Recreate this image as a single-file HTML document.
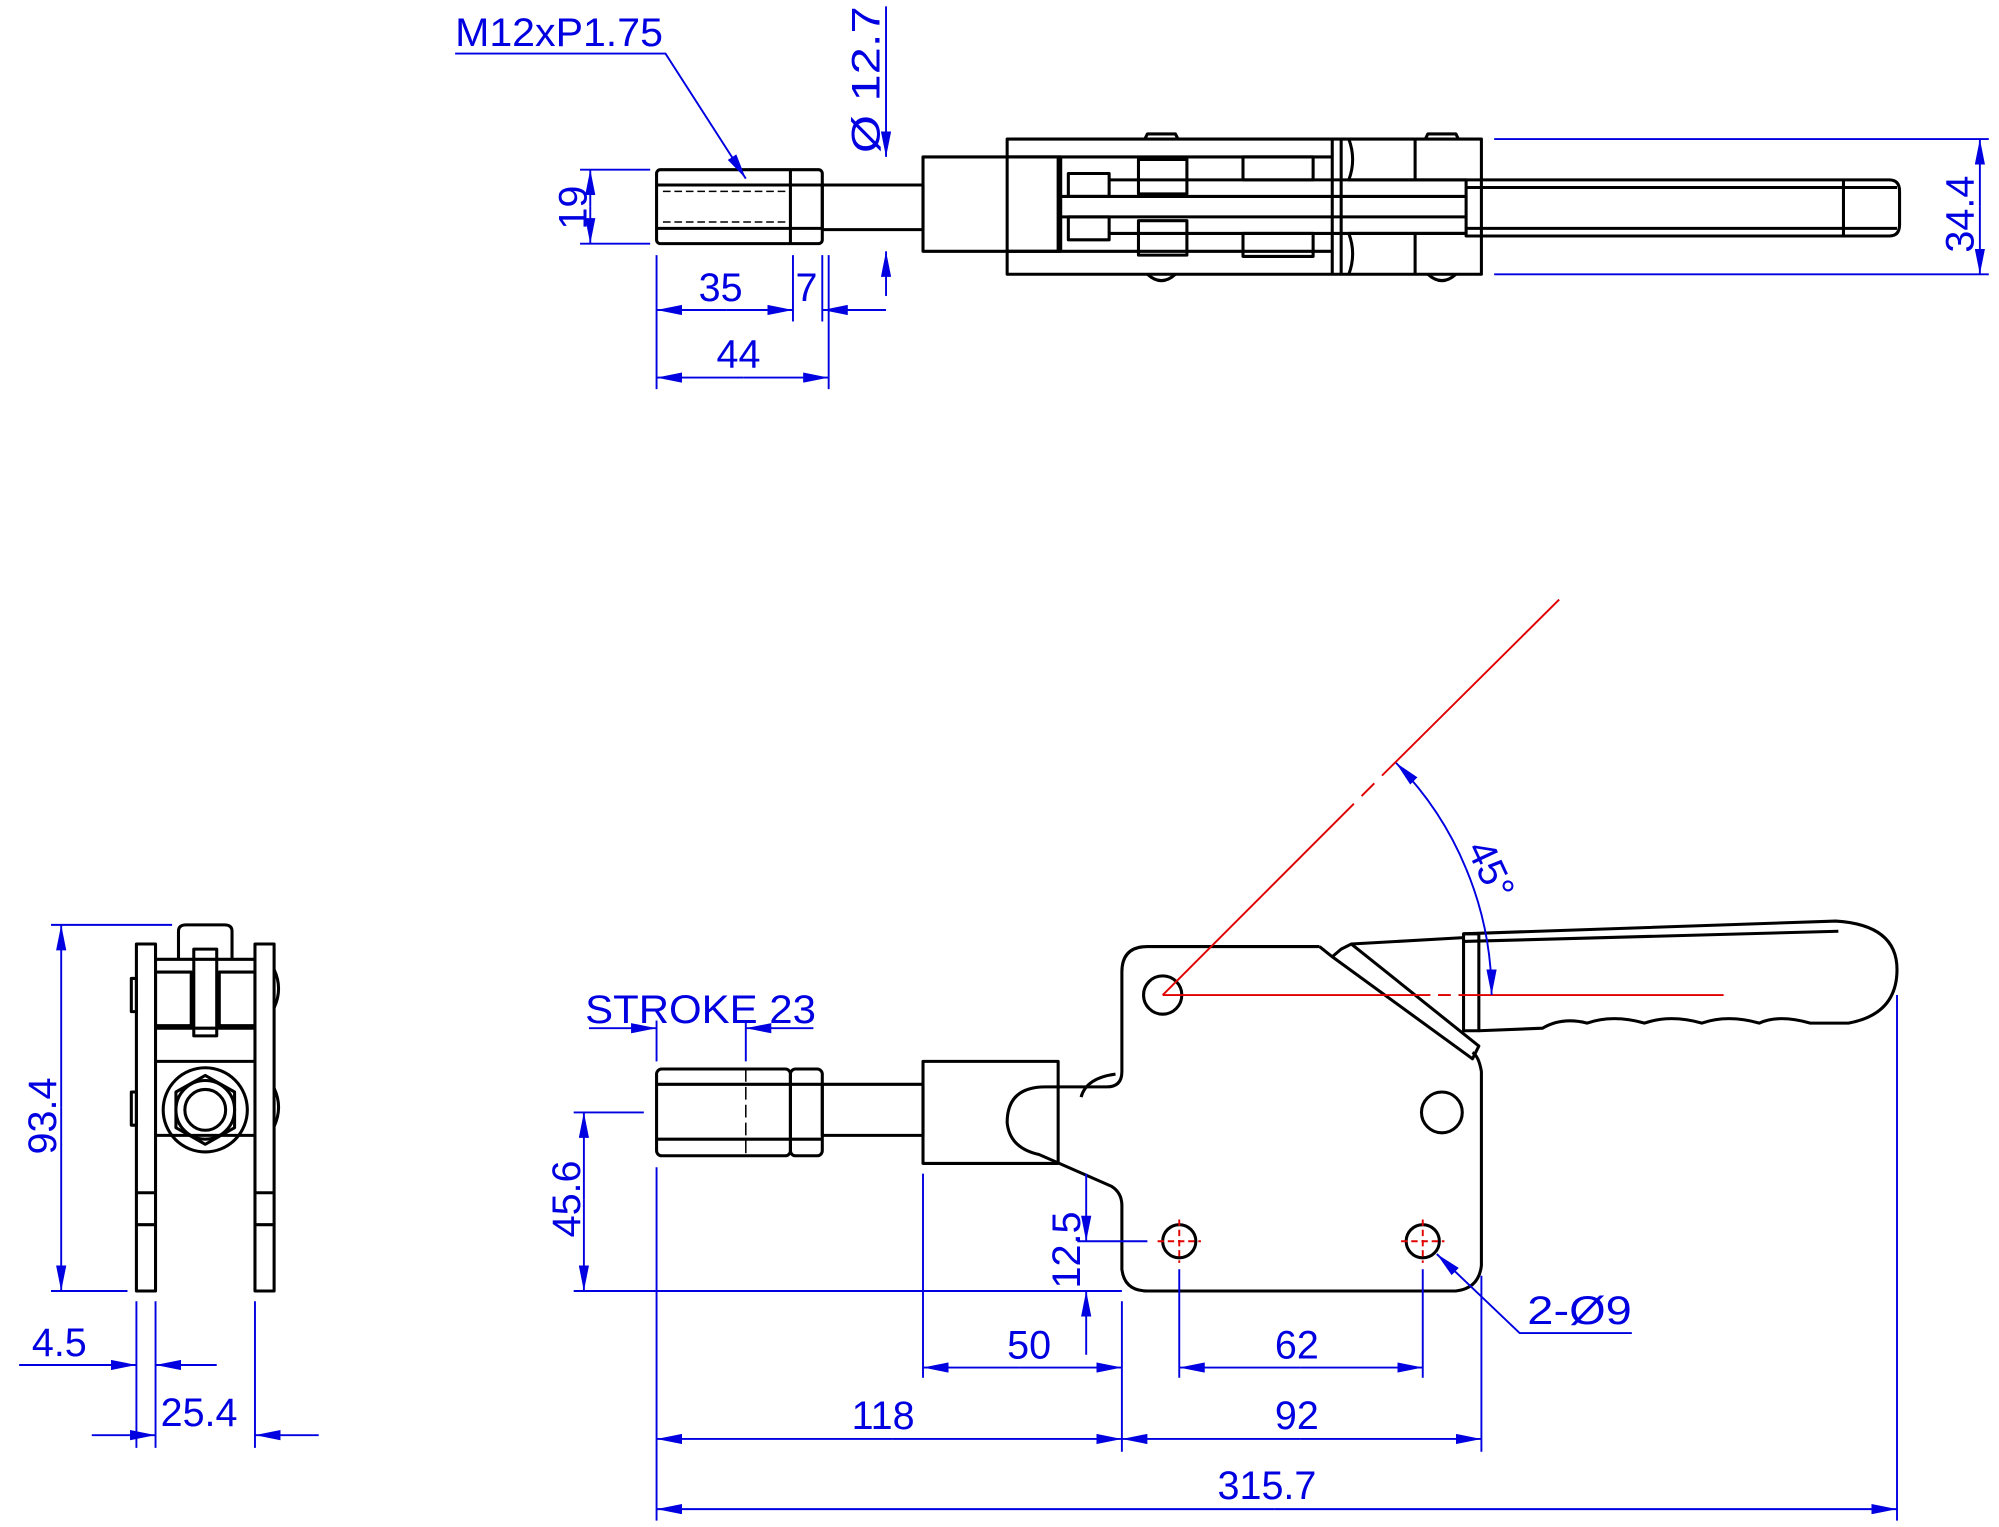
<!DOCTYPE html>
<html><head><meta charset="utf-8"><style>
html,body{margin:0;padding:0;background:#fff;}
svg{display:block;}
text{font-family:"Liberation Sans",sans-serif;fill:#0000e0;font-size:31px;}
</style></head><body>
<svg width="1999" height="1527" viewBox="0 0 1568 1197" preserveAspectRatio="none" xmlns="http://www.w3.org/2000/svg">
<defs>
<marker id="a" viewBox="0 0 20 8" refX="20" refY="4" markerWidth="20" markerHeight="8" markerUnits="userSpaceOnUse" orient="auto-start-reverse"><path d="M0,0L20,4L0,8z" fill="#0000e0"/></marker>
</defs>
<g fill="none" stroke="#000" stroke-width="2.4" stroke-linejoin="round">
<!-- TOP VIEW -->
<rect x="515" y="133" width="130" height="58" rx="3"/>
<line x1="620" y1="133" x2="620" y2="191"/>
<line x1="515" y1="145" x2="645" y2="145"/><line x1="515" y1="179" x2="645" y2="179"/>
<line x1="520" y1="150" x2="618" y2="150" stroke-dasharray="6,3" stroke-width="1.2"/>
<line x1="520" y1="174" x2="618" y2="174" stroke-dasharray="6,3" stroke-width="1.2"/>
<rect x="645" y="145" width="79" height="35"/>
<rect x="724" y="123" width="108" height="74"/>
<rect x="790" y="109" width="372" height="106"/>
<line x1="790" y1="123" x2="1045" y2="123"/><line x1="790" y1="197" x2="1045" y2="197"/>
<line x1="830" y1="123" x2="830" y2="197"/>
<rect x="893" y="125" width="38" height="27"/><rect x="893" y="173" width="38" height="27"/>
<rect x="838" y="136" width="32" height="18"/><rect x="838" y="170" width="32" height="18"/>
<line x1="832" y1="154" x2="1150" y2="154"/><line x1="832" y1="170" x2="1150" y2="170"/>
<line x1="870" y1="141" x2="1150" y2="141"/><line x1="870" y1="183" x2="1150" y2="183"/>
<rect x="975" y="123" width="55" height="18"/><rect x="975" y="183" width="55" height="18"/>
<line x1="1045" y1="109" x2="1045" y2="215"/><line x1="1052" y1="109" x2="1052" y2="215"/>
<path d="M1058,109 Q1064,125 1058,141 L1150,141"/><path d="M1058,215 Q1064,199 1058,183 L1150,183"/>
<line x1="1110" y1="109" x2="1110" y2="141"/><line x1="1110" y1="183" x2="1110" y2="215"/>
<path d="M1150,141 L1482,141 Q1490,141 1490,150 L1490,176 Q1490,185 1482,185 L1150,185 Z"/>
<line x1="1150" y1="147" x2="1488" y2="147"/><line x1="1150" y1="179" x2="1488" y2="179"/>
<line x1="1446" y1="141" x2="1446" y2="185"/>
<path d="M898,109 L900,105 L922,105 L924,109"/><path d="M1118,109 L1120,105 L1142,105 L1144,109"/>
<path d="M900,215 Q911,225 922,215"/><path d="M1120,215 Q1131,225 1142,215"/>
<!-- FRONT VIEW -->
<rect x="107" y="740" width="15" height="272"/><rect x="200" y="740" width="15" height="272"/>
<line x1="122" y1="752" x2="200" y2="752"/><line x1="122" y1="806" x2="200" y2="806"/><line x1="122" y1="832" x2="200" y2="832"/><line x1="122" y1="890" x2="200" y2="890"/>
<rect x="122" y="762" width="28" height="42"/><rect x="172" y="762" width="28" height="42"/>
<rect x="152" y="744" width="18" height="68"/>
<path d="M140,752 L140,730 Q140,725 146,725 L176,725 Q182,725 182,730 L182,752"/>
<line x1="107" y1="960" x2="122" y2="960"/><line x1="200" y1="960" x2="215" y2="960"/>
<line x1="107" y1="935" x2="122" y2="935"/><line x1="200" y1="935" x2="215" y2="935"/>
<circle cx="161" cy="870" r="33"/>
<path d="M161,843 L184,856 L184,884 L161,897 L138,884 L138,856 Z"/>
<circle cx="161" cy="870" r="23"/><circle cx="161" cy="870" r="16"/>
<path d="M215,760 Q222,775 215,790"/><path d="M215,853 Q222,868 215,883"/>
<rect x="103" y="767" width="4" height="26"/><rect x="103" y="856" width="4" height="26"/>
<!-- SIDE VIEW -->
<rect x="515" y="838" width="105" height="68" rx="4"/>
<rect x="620" y="838" width="25" height="68" rx="4"/>
<line x1="515" y1="850" x2="645" y2="850"/><line x1="515" y1="893" x2="645" y2="893"/>
<line x1="585" y1="838" x2="585" y2="906" stroke-dasharray="10,4" stroke-width="1.2"/>
<rect x="645" y="850" width="79" height="40"/>
<rect x="724" y="832" width="106" height="80"/>
<path d="M1035,742 L900,742 Q880,742 880,762 L880,840 Q880,852 868,852 L820,852 Q790,852 790,880 Q792,900 815,905 L872,930 Q880,935 880,945 L880,995 Q882,1012 900,1012 L1142,1012 Q1160,1010 1162,992 L1162,840 Q1160,828 1155,825"/>
<path d="M848,860 Q852,845 875,842"/>
<circle cx="912" cy="780" r="15"/>
<circle cx="1131" cy="872" r="16"/>
<circle cx="925" cy="973" r="13"/>
<circle cx="1116" cy="973" r="13"/>
<path d="M1035,742 L1045,750 L1052,744 L1060,740 L1160,820 L1155,830 L1045,750"/>
<line x1="1060" y1="740" x2="1148" y2="735"/>
<path d="M1148,732 L1148,808 L1160,808 L1160,732 Z"/>
<path d="M1148,732 L1440,722 Q1488,725 1488,760 Q1488,795 1450,802 L1420,802 Q1395,795 1380,802 Q1355,795 1335,802 Q1310,795 1290,802 Q1265,795 1245,802 Q1225,797 1210,806 L1160,808"/>
<line x1="1148" y1="738" x2="1442" y2="730"/>
</g>
<!-- red center lines -->
<g stroke="#e00000" stroke-width="1.5" fill="none">
<line x1="912" y1="780" x2="1062" y2="630"/><line x1="1068" y1="624" x2="1078" y2="614"/><line x1="1084" y1="608" x2="1223" y2="470"/>
<line x1="912" y1="780" x2="1122" y2="780"/><line x1="1128" y1="780" x2="1138" y2="780"/><line x1="1144" y1="780" x2="1352" y2="780"/>
<g stroke-dasharray="5,3"><line x1="908" y1="973" x2="942" y2="973"/><line x1="925" y1="956" x2="925" y2="990"/>
<line x1="1099" y1="973" x2="1133" y2="973"/><line x1="1116" y1="956" x2="1116" y2="990"/></g>
</g>
<!-- blue dims -->
<g stroke="#0000e0" stroke-width="1.5" fill="none">
<path d="M357,42 L522,42 L585,140" marker-end="url(#a)"/>
<line x1="695" y1="5" x2="695" y2="123" marker-end="url(#a)"/><line x1="695" y1="232" x2="695" y2="197" marker-end="url(#a)"/>
<line x1="455" y1="133" x2="510" y2="133"/><line x1="455" y1="191" x2="510" y2="191"/>
<line x1="463" y1="162" x2="463" y2="133" marker-end="url(#a)"/><line x1="463" y1="162" x2="463" y2="191" marker-end="url(#a)"/>
<line x1="515" y1="200" x2="515" y2="305"/><line x1="622" y1="200" x2="622" y2="252"/><line x1="645" y1="200" x2="645" y2="252"/><line x1="650" y1="200" x2="650" y2="305"/>
<line x1="570" y1="243" x2="515" y2="243" marker-end="url(#a)"/><line x1="570" y1="243" x2="622" y2="243" marker-end="url(#a)"/>
<line x1="695" y1="243" x2="645" y2="243" marker-end="url(#a)"/>
<line x1="583" y1="296" x2="515" y2="296" marker-end="url(#a)"/><line x1="583" y1="296" x2="650" y2="296" marker-end="url(#a)"/>
<line x1="1172" y1="109" x2="1560" y2="109"/><line x1="1172" y1="215" x2="1560" y2="215"/>
<line x1="1553" y1="162" x2="1553" y2="109" marker-end="url(#a)"/><line x1="1553" y1="162" x2="1553" y2="215" marker-end="url(#a)"/>
<!-- front -->
<line x1="40" y1="725" x2="135" y2="725"/><line x1="40" y1="1012" x2="100" y2="1012"/>
<line x1="48" y1="868" x2="48" y2="725" marker-end="url(#a)"/><line x1="48" y1="868" x2="48" y2="1012" marker-end="url(#a)"/>
<line x1="107" y1="1020" x2="107" y2="1135"/><line x1="122" y1="1020" x2="122" y2="1135"/><line x1="200" y1="1020" x2="200" y2="1135"/>
<line x1="15" y1="1070" x2="107" y2="1070" marker-end="url(#a)"/><line x1="170" y1="1070" x2="122" y2="1070" marker-end="url(#a)"/>
<line x1="72" y1="1125" x2="122" y2="1125" marker-end="url(#a)"/><line x1="250" y1="1125" x2="200" y2="1125" marker-end="url(#a)"/>
<!-- side -->
<line x1="515" y1="800" x2="515" y2="832"/><line x1="585" y1="800" x2="585" y2="832"/>
<line x1="462" y1="806" x2="515" y2="806" marker-end="url(#a)"/><line x1="638" y1="806" x2="585" y2="806" marker-end="url(#a)"/>
<line x1="450" y1="872" x2="505" y2="872"/><line x1="450" y1="1012" x2="880" y2="1012"/>
<line x1="458" y1="940" x2="458" y2="872" marker-end="url(#a)"/><line x1="458" y1="940" x2="458" y2="1012" marker-end="url(#a)"/>
<line x1="845" y1="973" x2="900" y2="973"/>
<line x1="852" y1="920" x2="852" y2="973" marker-end="url(#a)"/><line x1="852" y1="1062" x2="852" y2="1012" marker-end="url(#a)"/>
<line x1="515" y1="915" x2="515" y2="1192"/><line x1="724" y1="920" x2="724" y2="1080"/><line x1="880" y1="1020" x2="880" y2="1138"/>
<line x1="925" y1="995" x2="925" y2="1080"/><line x1="1116" y1="995" x2="1116" y2="1080"/><line x1="1162" y1="1000" x2="1162" y2="1138"/>
<line x1="1488" y1="780" x2="1488" y2="1192"/>
<line x1="800" y1="1072" x2="724" y2="1072" marker-end="url(#a)"/><line x1="800" y1="1072" x2="880" y2="1072" marker-end="url(#a)"/>
<line x1="1020" y1="1072" x2="925" y2="1072" marker-end="url(#a)"/><line x1="1020" y1="1072" x2="1116" y2="1072" marker-end="url(#a)"/>
<line x1="700" y1="1128" x2="515" y2="1128" marker-end="url(#a)"/><line x1="700" y1="1128" x2="880" y2="1128" marker-end="url(#a)"/>
<line x1="1020" y1="1128" x2="880" y2="1128" marker-end="url(#a)"/><line x1="1020" y1="1128" x2="1162" y2="1128" marker-end="url(#a)"/>
<line x1="1000" y1="1183" x2="515" y2="1183" marker-end="url(#a)"/><line x1="1000" y1="1183" x2="1488" y2="1183" marker-end="url(#a)"/>
<path d="M1280,1045 L1192,1045 L1127,983" marker-end="url(#a)"/>
<path d="M1150,681 A258,258 0 0 0 1095,598" marker-end="url(#a)"/>
<path d="M1150,681 A258,258 0 0 1 1170,780" marker-end="url(#a)"/>
</g>
<text x="357" y="36" font-size="29" textLength="163" lengthAdjust="spacingAndGlyphs">M12xP1.75</text>
<text transform="translate(690,120) rotate(-90)" textLength="115" lengthAdjust="spacingAndGlyphs">Ø 12.7</text>
<text transform="translate(460,180) rotate(-90)">19</text>
<text x="548" y="236">35</text>
<text x="624" y="236">7</text>
<text x="562" y="288">44</text>
<text transform="translate(1548,198) rotate(-90)">34.4</text>
<text transform="translate(44,905) rotate(-90)">93.4</text>
<text x="25" y="1063">4.5</text>
<text x="126" y="1118">25.4</text>
<text x="459" y="802" textLength="181" lengthAdjust="spacingAndGlyphs">STROKE 23</text>
<text transform="translate(455,970) rotate(-90)">45.6</text>
<text transform="translate(847,1010) rotate(-90)">12.5</text>
<text x="790" y="1065">50</text>
<text x="1000" y="1065">62</text>
<text x="668" y="1120">118</text>
<text x="1000" y="1120">92</text>
<text x="955" y="1175">315.7</text>
<text x="1198" y="1038" textLength="82" lengthAdjust="spacingAndGlyphs">2-Ø9</text>
<text transform="translate(1150,665) rotate(65)">45°</text>
</svg>
</body></html>
